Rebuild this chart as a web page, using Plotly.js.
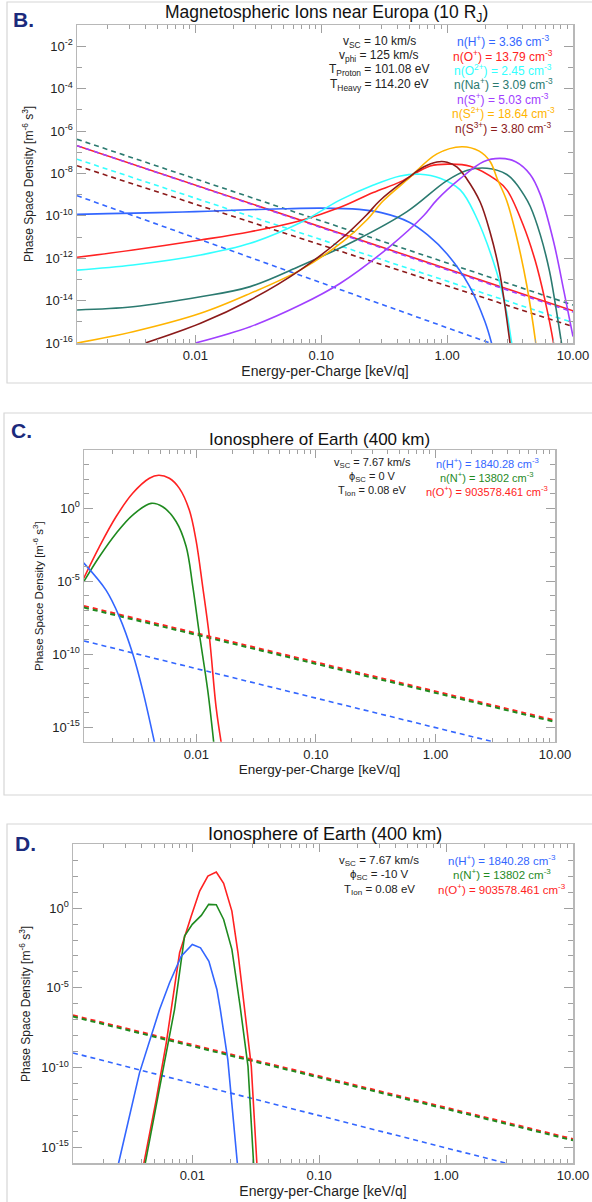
<!DOCTYPE html>
<html><head><meta charset="utf-8">
<script src="https://cdn.plot.ly/plotly-3.0.1.min.js"></script>
<style>html,body{margin:0;padding:0;background:#fff}</style>
</head><body><div id="chart" style="width:592px;height:1202px"></div>
<script>
// ================= DATA : energy-per-charge [keV/q] and phase space density [m^-6 s^3] =================
// ---- Panel B: Magnetospheric ions near Europa (10 RJ) ----
const bDashE   = [0.001148, 10];
const bNaDash  = [4.07e-7, 6.17e-15];
const bODash   = [2.04e-7, 3.31e-15];
const bSDash   = [2.04e-7, 2.88e-15];
const bO2Dash  = [4.68e-8, 9.12e-16];
const bS3Dash  = [2.29e-8, 5.89e-16];
const bHDashE  = [0.001148, 2.19];
const bHDash   = [8.91e-10, 1.0e-16];

const bHE  = [0.00115, 0.002, 0.005, 0.01, 0.02, 0.05, 0.1, 0.2, 0.3, 0.5, 0.7, 1.0, 1.5, 2.0, 2.3];
const bH   = [1.17e-10, 1.26e-10, 1.41e-10, 1.58e-10, 1.82e-10, 2.14e-10, 2.29e-10, 2.0e-10, 1.41e-10, 5.0e-11, 1.26e-11, 1.58e-12, 5.0e-14, 1.0e-15, 6.3e-17];
const bOE  = [0.00115, 0.0032, 0.011, 0.0273, 0.068, 0.1416, 0.259, 0.424, 0.733, 1.057, 1.524, 2.45, 3.0, 4.0, 5.0, 6.0, 7.0, 7.6];
const bO   = [1.10e-12, 2.45e-12, 7.24e-12, 1.78e-11, 5.89e-11, 2.51e-10, 1.26e-9, 3.98e-9, 2.24e-8, 2.75e-8, 2.19e-8, 4.9e-9, 1.58e-9, 3.98e-11, 7.94e-13, 1.0e-14, 1.0e-16, 3.2e-18];
const bO2E = [0.00115, 0.0032, 0.011, 0.0273, 0.068, 0.1416, 0.26, 0.424, 0.61, 0.88, 1.27, 1.67, 2.46, 2.96, 3.26, 3.5];
const bO2  = [2.75e-13, 4.79e-13, 1.41e-12, 5.01e-12, 4.68e-11, 5.62e-10, 2.82e-9, 7.59e-9, 9.12e-9, 5.89e-9, 1.66e-9, 1.12e-10, 2.51e-13, 3.16e-15, 1.0e-16, 1.0e-17];
const bNaE = [0.00115, 0.0032, 0.011, 0.0273, 0.068, 0.19, 0.48, 0.99, 1.43, 2.07, 2.98, 3.5, 4.06, 4.57, 5.5, 6.5, 7.3, 8.1, 8.8];
const bNa  = [3.63e-15, 5.13e-15, 1.51e-14, 4.57e-14, 4.27e-13, 7.24e-12, 1.58e-10, 4.47e-9, 1.38e-8, 1.74e-8, 8.91e-9, 3.55e-9, 1.0e-9, 2.82e-10, 1.26e-11, 2.51e-13, 5.01e-15, 1.0e-16, 3.16e-18];
const bS2E = [0.00115, 0.0032, 0.011, 0.0273, 0.068, 0.15, 0.23, 0.31, 0.48, 0.83, 1.31, 1.8, 2.2, 2.5, 2.98, 3.5, 4.3, 5.06, 5.5];
const bS2  = [1.0e-16, 3.39e-16, 2.51e-15, 2.19e-14, 2.75e-13, 6.31e-12, 6.31e-11, 5.01e-10, 4.9e-9, 8.32e-8, 1.82e-7, 1.12e-7, 3.55e-8, 5.62e-9, 5.01e-10, 1.58e-11, 5.01e-14, 1.0e-16, 1.58e-18];
const bS3E = [0.0040, 0.011, 0.0273, 0.068, 0.15, 0.23, 0.29, 0.48, 0.65, 0.83, 1.0, 1.2, 1.43, 1.83, 2.2, 2.6, 3.16, 3.4];
const bS3  = [1.0e-16, 8.51e-16, 1.07e-14, 2.75e-13, 1.0e-11, 1.12e-10, 5.01e-10, 5.62e-9, 2.0e-8, 3.47e-8, 3.39e-8, 2.0e-8, 5.62e-9, 4.47e-10, 1.58e-11, 2.51e-13, 1.0e-16, 3.16e-18];
const bSE  = [0.01, 0.0273, 0.068, 0.142, 0.35, 0.65, 0.83, 1.27, 1.94, 2.62, 3.5, 4.57, 5.5, 7.0, 8.5, 10.0];
const bS   = [1.0e-16, 5.89e-16, 6.17e-15, 6.61e-14, 3.55e-12, 1.0e-10, 5.62e-10, 5.62e-9, 3.55e-8, 5.13e-8, 3.55e-8, 8.91e-9, 1.0e-9, 6.31e-12, 2.51e-14, 2.0e-16];

// ---- Panel C: Ionosphere of Earth (400 km), phi_SC = 0 V ----
const cDashE  = [0.001148, 10];
const cODash  = [2.04e-7, 2.88e-15];
const cNDash  = [1.58e-7, 2.29e-15];
const cHDashE = [0.001148, 3.01];
const cHDash  = [8.13e-10, 1.0e-16];
const cOE = [1.14e-3, 1.542e-3, 2.128e-3, 2.931e-3, 4.046e-3, 4.842e-3, 5.943e-3, 7.211e-3, 8.73e-3, 9.93e-3, 1.13e-2, 1.285e-2, 1.462e-2, 1.611e-2];
const cO  = [1.55e-5, 2.29e-3, 0.263, 10.7, 115, 186, 115, 23.4, 0.759, 6.61e-3, 4.17e-6, 1.51e-9, 2.34e-14, 9.33e-17];
const cNE = [1.14e-3, 1.542e-3, 2.128e-3, 2.931e-3, 4.178e-3, 5.224e-3, 6.761e-3, 8.204e-3, 9.311e-3, 1.059e-2, 1.245e-2, 1.396e-2];
const cN  = [9.12e-6, 4.79e-4, 1.91e-2, 0.347, 2.19, 1.29, 0.126, 2.51e-3, 5.01e-6, 2.57e-9, 3.31e-13, 9.33e-17];
const cHE = [1.14e-3, 1.754e-3, 2.27e-3, 2.931e-3, 3.556e-3, 4.457e-3];
const cH  = [1.82e-4, 2.45e-6, 3.63e-8, 1.10e-10, 3.31e-13, 9.33e-17];

// ---- Panel D: Ionosphere of Earth (400 km), phi_SC = -10 V ----
const dDashE  = [0.001148, 10];
const dODash  = [1.91e-7, 3.31e-15];
const dNDash  = [1.58e-7, 2.75e-15];
const dHDashE = [0.001148, 2.99];
const dHDash  = [8.32e-10, 1.0e-16];
const dOE = [4.15e-3, 5.2e-3, 6.237e-3, 7.031e-3, 7.943e-3, 9.817e-3, 1.143e-2, 1.327e-2, 1.545e-2, 1.766e-2, 2.051e-2, 2.291e-2, 2.582e-2, 2.917e-2, 3.228e-2];
const dO  = [1e-16, 1e-12, 3.55e-9, 1.86e-6, 1.58e-3, 0.316, 11.7, 102, 182, 35.5, 0.646, 1.58e-3, 4.37e-7, 1.20e-10, 1e-16];
const dNE = [4.256e-3, 7.244e-3, 8.69e-3, 1.0e-2, 1.178e-2, 1.346e-2, 1.545e-2, 1.766e-2, 2.051e-2, 2.377e-2, 2.748e-2, 3.041e-2];
const dN  = [1e-16, 4.37e-7, 1.74e-2, 9.55e-2, 0.347, 1.70, 1.62, 0.195, 2.57e-3, 7.94e-7, 1.20e-10, 1e-16];
const dHE = [2.624e-3, 3.837e-3, 5.521e-3, 6.622e-3, 8.185e-3, 1.0e-2, 1.161e-2, 1.352e-2, 1.563e-2, 1.663e-2, 1.905e-2, 2.265e-2];
const dH  = [1e-16, 4.68e-11, 4.37e-7, 2.09e-5, 9.77e-4, 5.25e-3, 3.24e-3, 4.68e-4, 7.94e-6, 4.37e-7, 3.16e-10, 1e-16];

// ---- tick labels ----
const xTickVals = [0.01, 0.1, 1, 10];
const xTickText = ['0.01', '0.10', '1.00', '10.00'];
const bYTickVals = [1e-16, 1e-14, 1e-12, 1e-10, 1e-8, 1e-6, 1e-4, 1e-2];
const bYTickText = ['10<sup>-16</sup>', '10<sup>-14</sup>', '10<sup>-12</sup>', '10<sup>-10</sup>', '10<sup>-8</sup>', '10<sup>-6</sup>', '10<sup>-4</sup>', '10<sup>-2</sup>'];
const cdYTickVals = [1e-15, 1e-10, 1e-5, 1];
const cdYTickText = ['10<sup>-15</sup>', '10<sup>-10</sup>', '10<sup>-5</sup>', '10<sup>0</sup>'];

// ================= STYLE =================
const C = {H:'#3366ff', O:'#ff2222', O2:'#33ffff', Na:'#2b7a70', S:'#a040ff', S2:'#ffb400', S3:'#8b1a1a', N:'#1f8a1f'};
const W = 592, H = 1202;
const fx = px => px / W, fy = py => 1 - py / H;

function tr(xa, ya, color, dash, ax, width, shape) {
  return {x: xa, y: ya, type: 'scatter', mode: 'lines', xaxis: ax[0], yaxis: ax[1],
    line: {color: color, width: width || 1.6, dash: dash || 'solid', shape: shape || 'linear'}, hoverinfo: 'skip'};
}
const B = ['x', 'y'], Cc = ['x2', 'y2'], D = ['x3', 'y3'];
const DASH = '5px,4px', SP = 'spline';
const data = [
  tr(bDashE, bNaDash, C.Na, DASH, B), tr(bDashE, bODash, C.O, 'solid', B), tr(bDashE, bSDash, C.S, DASH, B),
  tr(bDashE, bO2Dash, C.O2, DASH, B), tr(bDashE, bS3Dash, C.S3, DASH, B), tr(bHDashE, bHDash, C.H, DASH, B),
  tr(bHE, bH, C.H, 0, B, 1.6, SP), tr(bOE, bO, C.O, 0, B, 1.6, SP), tr(bO2E, bO2, C.O2, 0, B, 1.6, SP),
  tr(bNaE, bNa, C.Na, 0, B, 1.6, SP), tr(bS2E, bS2, C.S2, 0, B, 1.6, SP), tr(bS3E, bS3, C.S3, 0, B, 1.6, SP),
  tr(bSE, bS, C.S, 0, B, 1.6, SP),
  tr(cDashE, cODash, C.O, DASH, Cc, 2), tr(cDashE, cNDash, C.N, DASH, Cc, 2), tr(cHDashE, cHDash, C.H, DASH, Cc),
  tr(cOE, cO, C.O, 0, Cc, 1.6, SP), tr(cNE, cN, C.N, 0, Cc, 1.6, SP), tr(cHE, cH, C.H, 0, Cc, 1.6, SP),
  tr(dDashE, dODash, C.O, DASH, D, 2), tr(dDashE, dNDash, C.N, DASH, D, 2), tr(dHDashE, dHDash, C.H, DASH, D),
  tr(dOE, dO, C.O, 0, D), tr(dNE, dN, C.N, 0, D), tr(dHE, dH, C.H, 0, D)
];

const FONT = 'Liberation Sans, Arial, Helvetica, sans-serif';
function xax(l, r, anchor, tsize) {
  return {type: 'log', domain: [fx(l), fx(r)], anchor: anchor, range: [-2.94, 1],
    showline: true, linecolor: '#b8b8b8', linewidth: 1.5, mirror: 'ticks', ticks: 'inside', ticklen: 8,
    tickcolor: '#a0a0a0', tickwidth: 1, tickmode: 'array', tickvals: xTickVals, ticktext: xTickText,
    tickfont: {size: 13, color: '#222'}, showgrid: false, zeroline: false,
    minor: {dtick: 'D1', ticklen: 4, tickcolor: '#a0a0a0', ticks: 'inside'},
    title: {text: 'Energy-per-Charge [keV/q]', font: {size: tsize, color: '#222'}, standoff: 0}};
}
function yax(t, b, anchor, rng, tv, tt) {
  return {type: 'log', domain: [fy(b), fy(t)], anchor: anchor, range: rng,
    showline: true, linecolor: '#b8b8b8', linewidth: 1.5, mirror: 'ticks', ticks: 'inside', ticklen: 9,
    tickcolor: '#a0a0a0', tickwidth: 1, tickmode: 'array', tickvals: tv, ticktext: tt,
    tickfont: {size: 13, color: '#222'}, showgrid: false, zeroline: false,
    minor: {tickmode: 'linear', tick0: 0, dtick: 1, ticklen: 5, tickcolor: '#a0a0a0', ticks: 'inside'}};
}

function ann(px, py, text, color, size, extra) {
  return Object.assign({xref: 'paper', yref: 'paper', x: fx(px), y: fy(py), text: text, showarrow: false,
    xanchor: 'center', yanchor: 'middle', font: {family: FONT, size: size || 12, color: color || '#222'}}, extra || {});
}
const YT = 'Phase Space Density [m<sup>-6</sup> s<sup>3</sup>]';
const annotations = [
  ann(23, 20, '<b>B.</b>', '#1b2a7c', 21),
  ann(326, 14, 'Magnetospheric Ions near Europa (10 R<sub>J</sub>)', '#111', 17.5),
  ann(28, 184, YT, '#222', 12, {textangle: -90}),
  ann(379, 42, 'v<sub>SC</sub> = 10 km/s'), ann(379, 56, 'v<sub>phi</sub> = 125 km/s'),
  ann(379, 70, 'T<sub>Proton</sub> = 101.08 eV'), ann(379, 85, 'T<sub>Heavy</sub> = 114.20 eV'),
  ann(503, 41, 'n(H<sup>+</sup>) = 3.36 cm<sup>-3</sup>', C.H), ann(503, 56, 'n(O<sup>+</sup>) = 13.79 cm<sup>-3</sup>', C.O),
  ann(503, 70, 'n(O<sup>2+</sup>) = 2.45 cm<sup>-3</sup>', C.O2), ann(503, 84, 'n(Na<sup>+</sup>) = 3.09 cm<sup>-3</sup>', C.Na),
  ann(503, 99, 'n(S<sup>+</sup>) = 5.03 cm<sup>-3</sup>', C.S), ann(503, 113, 'n(S<sup>2+</sup>) = 18.64 cm<sup>-3</sup>', C.S2),
  ann(503, 128, 'n(S<sup>3+</sup>) = 3.80 cm<sup>-3</sup>', C.S3),

  ann(21, 430, '<b>C.</b>', '#1b2a7c', 21),
  ann(319, 439, 'Ionosphere of Earth (400 km)', '#111', 17),
  ann(38, 596, YT, '#222', 11.5, {textangle: -90}),
  ann(372, 463, 'v<sub>SC</sub> = 7.67 km/s', '#222', 11), ann(372, 477, 'ϕ<sub>SC</sub> = 0 V', '#222', 11),
  ann(372, 491, 'T<sub>Ion</sub> = 0.08 eV', '#222', 11),
  ann(487, 463, 'n(H<sup>+</sup>) = 1840.28 cm<sup>-3</sup>', C.H, 11), ann(487, 477, 'n(N<sup>+</sup>) = 13802 cm<sup>-3</sup>', C.N, 11),
  ann(487, 491, 'n(O<sup>+</sup>) = 903578.461 cm<sup>-3</sup>', C.O, 11),

  ann(25, 843, '<b>D.</b>', '#1b2a7c', 21),
  ann(325, 834, 'Ionosphere of Earth (400 km)', '#111', 18),
  ann(25, 1004, YT, '#222', 12, {textangle: -90}),
  ann(379, 861, 'v<sub>SC</sub> = 7.67 km/s', '#222', 11.5), ann(379, 875, 'ϕ<sub>SC</sub> = -10 V', '#222', 11.5),
  ann(379, 890, 'T<sub>Ion</sub> = 0.08 eV', '#222', 11.5),
  ann(502, 860, 'n(H<sup>+</sup>) = 1840.28 cm<sup>-3</sup>', C.H, 11.5), ann(502, 874, 'n(N<sup>+</sup>) = 13802 cm<sup>-3</sup>', C.N, 11.5),
  ann(502, 889, 'n(O<sup>+</sup>) = 903578.461 cm<sup>-3</sup>', C.O, 11.5)
];

function frame(x0, y0, x1, y1) {
  return {type: 'rect', xref: 'paper', yref: 'paper', x0: fx(x0), x1: fx(x1), y0: fy(y1), y1: fy(y0),
    line: {color: '#d6d6d6', width: 1.2}, fillcolor: 'rgba(0,0,0,0)', layer: 'below'};
}

const layout = {
  width: W, height: H, margin: {l: 0, r: 0, t: 0, b: 0}, showlegend: false,
  paper_bgcolor: '#fff', plot_bgcolor: '#fff', font: {family: FONT, color: '#222'},
  xaxis: xax(77, 573, 'y', 14), yaxis: yax(25, 343, 'x', [-16, -1], bYTickVals, bYTickText),
  xaxis2: xax(84, 555, 'y2', 13.5), yaxis2: yax(450, 741.7, 'x2', [-16, 4], cdYTickVals, cdYTickText),
  xaxis3: xax(73, 573, 'y3', 14), yaxis3: yax(844.3, 1163.3, 'x3', [-16, 4], cdYTickVals, cdYTickText),
  annotations: annotations,
  shapes: [frame(7, 2, 600, 383), frame(4, 413, 600, 795), frame(7, 824, 600, 1210)]
};

Plotly.newPlot('chart', data, layout, {displayModeBar: false, staticPlot: true});
</script></body></html>
